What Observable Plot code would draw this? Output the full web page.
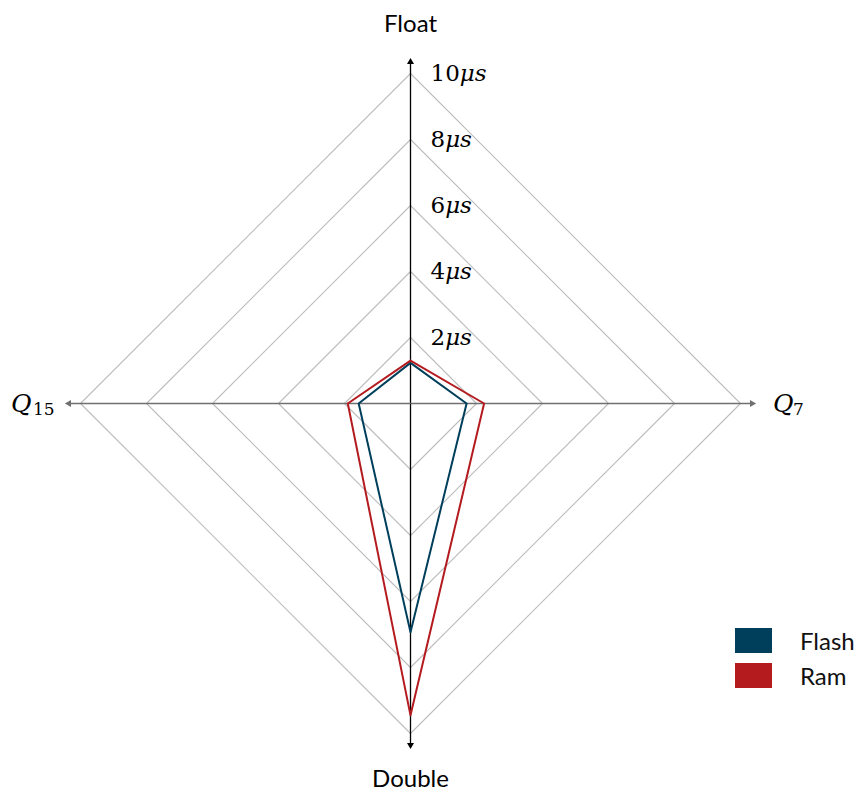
<!DOCTYPE html>
<html><head><meta charset="utf-8">
<script src="https://cdn.jsdelivr.net/npm/d3@7"></script>
<script src="https://cdn.jsdelivr.net/npm/@observablehq/plot@0.6"></script>
<style>
body{margin:0;background:#fff;}
#wrap{position:relative;width:861px;height:792px;}
.legend{position:absolute;left:735px;top:623px;font-family:Lato,"Open Sans",sans-serif;font-size:24px;color:#111;}
.legend .row{display:flex;align-items:center;height:35px;}
.legend .sw{width:37px;height:25px;margin-right:28px;}
</style>
</head><body><div id="wrap"></div>
<script>
const axes = ["Float","Q7","Double","Q15"];
const series = ["Flash","Ram"];
const flash = [1.23, 1.70, 6.93, 1.57];
const ram = [1.30, 2.23, 9.45, 1.90];
const levels = [2,4,6,8,10];
const tickLabels = ["2","4","6","8","10"];
const colors = ["#003f5c","#b41b1f"];
const axisLen = 10.35;

const dirs = {Float:[0,1], Q7:[1,0], Double:[0,-1], Q15:[-1,0]};
const poly = [];
[[flash,"Flash"],[ram,"Ram"]].forEach(([vals,s])=>{
  const pts = axes.map((a,i)=>({series:s, x:dirs[a][0]*vals[i], y:dirs[a][1]*vals[i]}));
  pts.push(pts[0]);
  poly.push(...pts);
});
const grid = [];
levels.forEach(L=>{
  const pts = axes.map(a=>({level:L, x:dirs[a][0]*L, y:dirs[a][1]*L}));
  pts.push(pts[0]);
  grid.push(...pts);
});
const axisLines = axes.map(a=>({axis:a, x:dirs[a][0]*axisLen, y:dirs[a][1]*axisLen,
  rot: a==="Float"?0:a==="Q7"?90:a==="Double"?180:270,
  color: (a==="Float"||a==="Double")?"#000":"#707070"}));
const ticks = levels.map((L,i)=>({x:0,y:L,label:tickLabels[i]}));

const W=861,H=792, cx=410, cy=403, k=33;
const plot = Plot.plot({
  width:W, height:H, margin:0,
  x:{domain:[-cx/k,(W-cx)/k], range:[0,W], axis:null},
  y:{domain:[-(H-cy)/k, cy/k], range:[H,0], axis:null},
  color:{domain:series, range:colors},
  marks:[
    Plot.line(grid,{x:"x",y:"y",z:"level",stroke:"#bdbdbd",strokeWidth:1.1}),
    Plot.link(axisLines,{x1:0,y1:0,x2:"x",y2:"y",stroke:"color",strokeWidth:1.3}),
    Plot.dot(axisLines,{x:"x",y:"y",symbol:"triangle",r:2.6,rotate:"rot",fill:"color",stroke:null}),
    Plot.line(poly,{x:"x",y:"y",z:"series",stroke:"series",strokeWidth:2}),
    Plot.text(ticks,{x:"x",y:"y",text:d=>d.label+"μs",dx:20,textAnchor:"start",fontSize:23,fontFamily:"DejaVu Serif, serif",className:"tick"}),
    Plot.text(axes.filter(a=>a==="Float"),{x:0,y:axisLen,text:d=>d,dy:-38,fontSize:24,fontFamily:"Lato, sans-serif"}),
    Plot.text(axes.filter(a=>a==="Double"),{x:0,y:-axisLen,text:d=>d,dy:34,fontSize:24,fontFamily:"Lato, sans-serif"}),
    Plot.text(axes.filter(a=>a==="Q7"),{x:axisLen,y:0,text:d=>"Q",dx:21,textAnchor:"start",fontSize:25,fontStyle:"italic",fontFamily:"DejaVu Serif, serif"}),
    Plot.text(axes.filter(a=>a==="Q7"),{x:axisLen,y:0,text:d=>"7",dx:41,dy:6,textAnchor:"start",fontSize:17,fontFamily:"DejaVu Serif, serif"}),
    Plot.text(axes.filter(a=>a==="Q15"),{x:-axisLen,y:0,text:d=>"Q",dx:-58,textAnchor:"start",fontSize:25,fontStyle:"italic",fontFamily:"DejaVu Serif, serif"}),
    Plot.text(axes.filter(a=>a==="Q15"),{x:-axisLen,y:0,text:d=>"15",dx:-36,dy:6,textAnchor:"start",fontSize:17,fontFamily:"DejaVu Serif, serif"})
  ]
});
d3.select(plot).selectAll("g.tick text").each(function(){
  const t=d3.select(this); const s=t.text(); const num=s.replace("μs","");
  t.text(null); t.append("tspan").text(num); t.append("tspan").attr("font-style","italic").text("μs");
});
document.getElementById("wrap").appendChild(plot);
const lg=document.createElement("div"); lg.className="legend";
series.forEach((s,i)=>{const r=document.createElement("div");r.className="row";
  r.innerHTML=`<div class="sw" style="background:${colors[i]}"></div><span>${s}</span>`;lg.appendChild(r);});
document.getElementById("wrap").appendChild(lg);
</script></body></html>
